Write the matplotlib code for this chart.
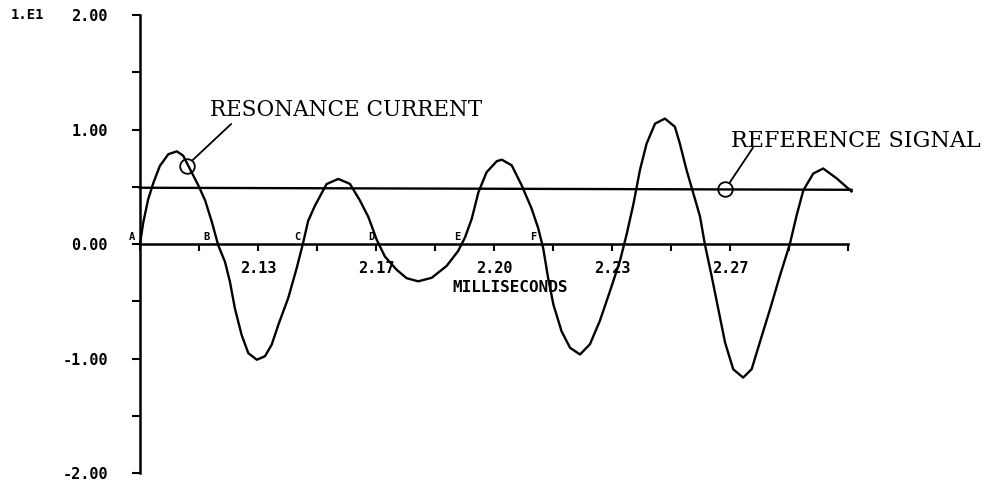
import matplotlib
matplotlib.use('Agg')
import matplotlib.pyplot as plt
import numpy as np

# resonance current (milliseconds, units of 1.E1)
t_ms = [2.1000, 2.1009, 2.1023, 2.1038, 2.1056, 2.1080, 2.1104, 2.1122, 2.1141,
        2.1165, 2.1184, 2.1203, 2.1221, 2.1240, 2.1254, 2.1268, 2.1287, 2.1306,
        2.1330, 2.1353, 2.1372, 2.1391, 2.1419, 2.1443, 2.1461, 2.1475, 2.1494,
        2.1527, 2.1560, 2.1593, 2.1621, 2.1645, 2.1669, 2.1692, 2.1725, 2.1753,
        2.1786, 2.1824, 2.1866, 2.1899, 2.1918, 2.1937, 2.1956, 2.1979, 2.2008,
        2.2022, 2.2050, 2.2078, 2.2106, 2.2125, 2.2139, 2.2153, 2.2168, 2.2191,
        2.2215, 2.2243, 2.2271, 2.2299, 2.2328, 2.2356, 2.2375, 2.2394, 2.2412,
        2.2431, 2.2455, 2.2483, 2.2511, 2.2525, 2.2544, 2.2563, 2.2582, 2.2596,
        2.2615, 2.2634, 2.2653, 2.2676, 2.2704, 2.2728, 2.2751, 2.2780, 2.2808,
        2.2836, 2.2855, 2.2874, 2.2902, 2.2930, 2.2968, 2.3010]
current = [0.000, 0.187, 0.391, 0.538, 0.683, 0.786, 0.811, 0.773, 0.657,
           0.512, 0.382, 0.194, -0.010, -0.154, -0.328, -0.561, -0.793, -0.953,
           -1.010, -0.980, -0.878, -0.703, -0.468, -0.205, 0.014, 0.203, 0.335,
           0.525, 0.570, 0.527, 0.383, 0.238, 0.036, -0.109, -0.224, -0.297,
           -0.325, -0.294, -0.191, -0.059, 0.058, 0.220, 0.453, 0.628, 0.725,
           0.738, 0.689, 0.515, 0.313, 0.139, -0.035, -0.297, -0.530, -0.762,
           -0.906, -0.964, -0.875, -0.671, -0.408, -0.145, 0.089, 0.352, 0.643,
           0.877, 1.053, 1.097, 1.026, 0.880, 0.648, 0.445, 0.242, -0.005,
           -0.281, -0.572, -0.862, -1.094, -1.166, -1.092, -0.858, -0.567, -0.274,
           0.003, 0.252, 0.471, 0.617, 0.661, 0.575, 0.461]

# reference signal (nearly flat line)
ref_t = [2.1000, 2.3010]
ref_v = [0.493, 0.475]

# letters marking the crossings
mark_letters = ['A', 'B', 'C', 'D', 'E', 'F']
mark_t = [2.0978, 2.1189, 2.1444, 2.1655, 2.1895, 2.2110]

# axis ticks
x_ticks = [2.10 + k / 60 for k in range(13)]
x_labels = ['', '', '2.13', '', '2.17', '', '2.20', '', '2.23', '', '2.27', '', '']
y_ticks = [2.0, 1.5, 1.0, 0.5, 0.0, -0.5, -1.0, -1.5, -2.0]
y_labels = ['2.00', '', '1.00', '', '0.00', '', '-1.00', '', '-2.00']

# circled points on the two traces
res_pt = (2.1132, 0.686)
ref_pt = (2.2653, 0.478)

plot_font = dict(family='DejaVu Sans Mono', fontweight='bold')
type_font = dict(family='DejaVu Serif')

fig = plt.figure(figsize=(9.86, 4.88), dpi=100)
ax = fig.add_axes([0.142, 0.0307, 0.718, 0.938])

ax.plot(t_ms, current, color='black', lw=1.7, clip_on=False,
        solid_joinstyle='round')
ax.plot(ref_t, ref_v, color='black', lw=1.7, clip_on=False)

ax.set_xlim(2.10, 2.30)
ax.set_ylim(-2.0, 2.0)

ax.spines['top'].set_visible(False)
ax.spines['right'].set_visible(False)
ax.spines['left'].set_linewidth(1.8)
ax.spines['bottom'].set_position(('data', 0))
ax.spines['bottom'].set_linewidth(1.8)

ax.set_yticks(y_ticks)
ax.set_yticklabels(y_labels, fontsize=11, **plot_font)
ax.tick_params(axis='y', direction='out', length=6, width=1.5, pad=17)

ax.set_xticks(x_ticks)
ax.set_xticklabels(x_labels, fontsize=11, **plot_font)
ax.tick_params(axis='x', direction='out', length=5, width=1.5, pad=7)

# axis title sits just under the tick labels
ax.text(2.2045, -0.375, 'MILLISECONDS', ha='center', va='center',
        fontsize=11.5, **plot_font)
ax.text(-0.183, 2.0, '1.E1', transform=ax.get_yaxis_transform(),
        ha='left', va='center', fontsize=10, **plot_font)

for lab, t in zip(mark_letters, mark_t):
    ax.text(t, 0.02, lab, ha='center', va='bottom', fontsize=7.5, **plot_font)

# circles and leader lines
ax.plot(*res_pt, 'o', ms=10.5, mfc='none', mec='black', mew=1.3)
ax.plot(*ref_pt, 'o', ms=10.5, mfc='none', mec='black', mew=1.3)
ax.annotate('', xy=res_pt, xytext=(32, 30), textcoords='offset points',
            arrowprops=dict(arrowstyle='-', lw=1.3, shrinkA=0, shrinkB=5.5))
ax.annotate('', xy=ref_pt, xytext=(20, 30), textcoords='offset points',
            arrowprops=dict(arrowstyle='-', lw=1.3, shrinkA=0, shrinkB=5.5))

ax.text(2.1198, 1.17, 'RESONANCE CURRENT', ha='left', va='center',
        fontsize=15.5, **type_font)
ax.text(2.2670, 0.90, 'REFERENCE SIGNAL', ha='left', va='center',
        fontsize=16, **type_font)

plt.savefig('out.png', dpi=100)
